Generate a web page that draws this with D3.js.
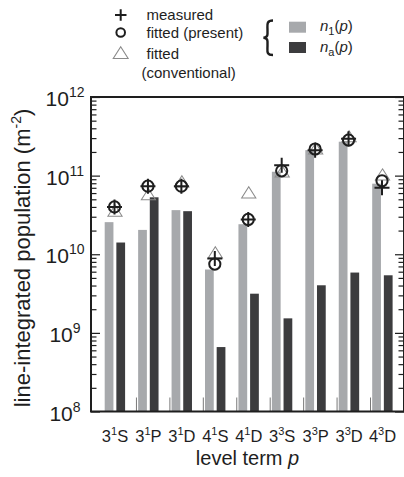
<!DOCTYPE html>
<html>
<head>
<meta charset="utf-8">
<script src="https://cdn.jsdelivr.net/npm/d3@7"></script>
<style>
  body { margin: 0; background: #fff; }
  svg { display: block; font-family: "Liberation Sans", Arial, sans-serif; }
</style>
</head>
<body>
<div id="chart"></div>
<script>
// level terms: principal number, spin multiplicity, orbital letter
const levels = [["3","1","S"], ["3","1","P"], ["3","1","D"], ["4","1","S"], ["4","1","D"],
                ["3","3","S"], ["3","3","P"], ["3","3","D"], ["4","3","D"]];
const categories = levels.map(d => d.join(""));

const n1 = [2.56e10, 2.04e10, 3.64e10, 6.4e9, 2.41e10, 1.12e11, 2.11e11, 2.7e11, 7.9e10];
const na = [1.41e10, 5.3e10, 3.53e10, 6.6e8, 3.15e9, 1.53e9, 4.03e9, 5.85e9, 5.4e9];
const measured = [4.0e10, 7.35e10, 7.35e10, 8.8e9, 2.77e10, 1.36e11, 2.1e11, 2.95e11, 7.0e10];
const fittedPresent = [4.0e10, 7.35e10, 7.35e10, 7.5e9, 2.77e10, 1.15e11, 2.18e11, 2.83e11, 8.6e10];
const fittedConv = [3.4e10, 5.5e10, 8.0e10, 1.0e10, 5.8e10, 1.07e11, 2.1e11, 3.0e11, 9.8e10];

const decades = [1e8, 1e9, 1e10, 1e11, 1e12];
const decadeExp = ["8", "9", "10", "11", "12"];

const W = 404, H = 477;
const plot = {left: 91, right: 404, top: 97, bottom: 411.5};

const svg = d3.select("#chart").append("svg")
    .attr("width", W).attr("height", H);

const y = d3.scaleLog().domain([1e8, 1e12]).range([plot.bottom, plot.top]);
const x = d3.scalePoint().domain(categories).range([115, 382.5]);
const sub = d3.scaleBand().domain(["n1", "na"]).range([-10.3, 10.1]).paddingInner(0.25);

const lightGray = "#a7a9ac", darkGray = "#3c3c3e", ink = "#1e1e1e";

// bars
const barData = categories.map((c, i) => ({c: c, n1: n1[i], na: na[i]}));
const groups = svg.append("g").selectAll("g")
    .data(barData)
  .enter().append("g")
    .attr("transform", d => "translate(" + x(d.c) + ",0)");
groups.selectAll("rect")
    .data(d => [{k: "n1", v: d.n1}, {k: "na", v: d.na}])
  .enter().append("rect")
    .attr("x", d => sub(d.k))
    .attr("y", d => y(d.v))
    .attr("width", sub.bandwidth())
    .attr("height", d => plot.bottom - y(d.v))
    .attr("fill", d => d.k == "n1" ? lightGray : darkGray);

// minor / major ticks on both sides
const minor = [];
for (let e = 8; e < 12; e++) for (let m = 2; m <= 9; m++) minor.push(m * Math.pow(10, e));

svg.append("g").attr("transform", "translate(" + plot.left + ",0)")
    .call(d3.axisLeft(y).tickValues(minor).tickSize(-5.5).tickFormat(""));
svg.append("g").attr("transform", "translate(" + plot.left + ",0)")
    .call(d3.axisLeft(y).tickValues(decades).tickSize(-9).tickFormat(""));
svg.append("g").attr("transform", "translate(" + plot.right + ",0)")
    .call(d3.axisRight(y).tickValues(minor).tickSize(-5.5).tickFormat(""));
svg.append("g").attr("transform", "translate(" + plot.right + ",0)")
    .call(d3.axisRight(y).tickValues(decades).tickSize(-9).tickFormat(""));
svg.selectAll(".domain").remove();
svg.selectAll(".tick line").attr("stroke", ink).attr("stroke-width", 1.2);

// small ticks along the bottom between groups
svg.append("g").selectAll("line")
    .data(categories.slice(1))
  .enter().append("line")
    .attr("x1", d => x(d) - 12).attr("x2", d => x(d) - 12)
    .attr("y1", plot.bottom).attr("y2", plot.bottom - 14)
    .attr("stroke", "#555").attr("stroke-width", 0.8);

// frame
svg.append("path")
    .attr("d", "M" + plot.right + "," + plot.top + "H" + plot.left + "V" + plot.bottom + "H" + plot.right + "V" + plot.top)
    .attr("fill", "none").attr("stroke", ink).attr("stroke-width", 2);

// markers
const tri = d3.symbol().type(d3.symbolTriangle).size(80);
svg.append("g").selectAll("path")
    .data(categories.map((c, i) => ({c: c, v: fittedConv[i]})))
  .enter().append("path")
    .attr("d", tri)
    .attr("transform", d => "translate(" + x(d.c) + "," + y(d.v) + ") scale(1.05,0.95)")
    .attr("fill", "none").attr("stroke", "#8a8a8a").attr("stroke-width", 1);

svg.append("g").selectAll("circle")
    .data(categories.map((c, i) => ({c: c, v: fittedPresent[i]})))
  .enter().append("circle")
    .attr("cx", d => x(d.c) - 0.5)
    .attr("cy", d => y(d.v))
    .attr("r", 5.6)
    .attr("fill", "none").attr("stroke", ink).attr("stroke-width", 2);

svg.append("g").selectAll("path")
    .data(categories.map((c, i) => ({c: c, v: measured[i]})))
  .enter().append("path")
    .attr("d", d => {
        const cx = x(d.c) - 0.5, cy = y(d.v), s = 7.5;
        return "M" + (cx - s) + "," + cy + "H" + (cx + s) + "M" + cx + "," + (cy - s) + "V" + (cy + s);
    })
    .attr("stroke", ink).attr("stroke-width", 2);

// y tick labels
const yl = svg.append("g").selectAll("text")
    .data(decades)
  .enter().append("text")
    .attr("x", 65)
    .attr("y", d => y(d) + 9)
    .attr("text-anchor", "middle")
    .attr("fill", ink)
    .style("font-size", "21px");
yl.append("tspan").text("10");
yl.append("tspan").attr("dy", -9).style("font-size", "14px").text((d, i) => decadeExp[i]);

// x tick labels
const xl = svg.append("g").selectAll("text")
    .data(levels)
  .enter().append("text")
    .attr("x", d => x(d.join("")))
    .attr("y", 441.5)
    .attr("text-anchor", "middle")
    .attr("fill", ink)
    .style("font-size", "16.5px");
xl.append("tspan").text(d => d[0]);
xl.append("tspan").attr("dy", -7).style("font-size", "11px").text(d => d[1]);
xl.append("tspan").attr("dy", 7).text(d => d[2]);

// axis titles
const xt = svg.append("text")
    .attr("x", 247.5).attr("y", 465)
    .attr("text-anchor", "middle").attr("fill", ink)
    .style("font-size", "20px");
xt.append("tspan").text("level term ");
xt.append("tspan").style("font-style", "italic").text("p");

const yt = svg.append("text")
    .attr("transform", "translate(30,258) rotate(-90)")
    .attr("text-anchor", "middle").attr("fill", ink)
    .style("font-size", "22px");
yt.append("tspan").text("line-integrated population (m");
yt.append("tspan").attr("dy", -9).style("font-size", "14px").text("-2");
yt.append("tspan").attr("dy", 9).text(")");

// legend: markers
const lg = svg.append("g").attr("fill", ink).style("font-size", "15px");
lg.append("path")
    .attr("d", "M115,15H126.5M120.7,9.3V20.7")
    .attr("stroke", ink).attr("stroke-width", 2);
lg.append("circle").attr("cx", 120.7).attr("cy", 32.5).attr("r", 4.3)
    .attr("fill", "none").attr("stroke", ink).attr("stroke-width", 2);
lg.append("path").attr("d", tri)
    .attr("transform", "translate(120.7,54.5) scale(1.1,1)")
    .attr("fill", "none").attr("stroke", "#8a8a8a").attr("stroke-width", 1);
lg.append("text").attr("x", 146.5).attr("y", 20).text("measured");
lg.append("text").attr("x", 146.5).attr("y", 38).text("fitted (present)");
lg.append("text").attr("x", 146.5).attr("y", 59).text("fitted");
lg.append("text").attr("x", 141.5).attr("y", 78).text("(conventional)");

// legend: bars
lg.append("path")
    .attr("d", "M273,20.5C266,20.5 267.5,25 267.5,30V34C267.5,36.5 266,37.5 263.5,37.8C266,38.1 267.5,39 267.5,41.5V46C267.5,51 266,55 273,55")
    .attr("fill", "none").attr("stroke", ink).attr("stroke-width", 2.4);
lg.append("rect").attr("x", 289).attr("y", 21.7).attr("width", 17).attr("height", 11).attr("fill", lightGray);
lg.append("rect").attr("x", 289).attr("y", 42).attr("width", 17).attr("height", 11).attr("fill", darkGray);
const l1 = lg.append("text").attr("x", 320).attr("y", 31);
l1.append("tspan").style("font-style", "italic").text("n");
l1.append("tspan").attr("dy", 4).style("font-size", "11px").text("1");
l1.append("tspan").attr("dy", -4).text("(");
l1.append("tspan").style("font-style", "italic").text("p");
l1.append("tspan").text(")");
const l2 = lg.append("text").attr("x", 320).attr("y", 52);
l2.append("tspan").style("font-style", "italic").text("n");
l2.append("tspan").attr("dy", 4).style("font-size", "11px").text("a");
l2.append("tspan").attr("dy", -4).text("(");
l2.append("tspan").style("font-style", "italic").text("p");
l2.append("tspan").text(")");
</script>
</body>
</html>
